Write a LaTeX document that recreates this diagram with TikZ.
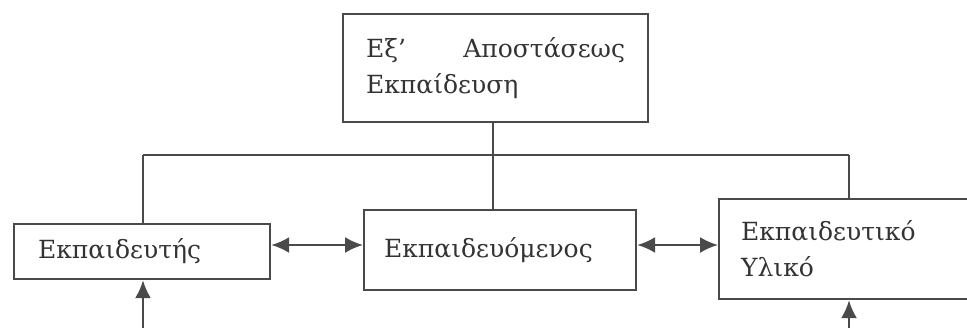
\documentclass[tikz,border=0pt]{standalone}
\usepackage{fontspec}
\setmainfont{DejaVu Serif}
\usetikzlibrary{arrows.meta}
\definecolor{ink}{HTML}{333333}
\definecolor{edge}{HTML}{4A4A4A}
\begin{document}
\begin{tikzpicture}[x=1pt,y=-1pt,
  box/.style={draw=edge, line width=2.2pt, rectangle, anchor=north west, inner ysep=0pt,
    text=ink, font=\fontsize{25}{36}\selectfont, align=left},
  link/.style={draw=edge, line width=2.2pt},
  dbl/.style={link, {Latex[length=18pt,width=16pt]}-{Latex[length=18pt,width=16pt]}},
  up/.style={link, -{Latex[length=18pt,width=16pt]}}]
\useasboundingbox (0,0) rectangle (967,327);
\node[box, minimum width=305pt, minimum height=108pt, inner xsep=23pt, text width=259pt] (top) at (342,13)
  {Εξ’\hfill Αποστάσεως\\Εκπαίδευση};
\node[box, minimum width=256pt, minimum height=55pt, inner xsep=24pt, text width=208pt] (left) at (13,223)
  {\raisebox{-4pt}{Εκπαιδευτής}};
\node[box, minimum width=272pt, minimum height=80pt, inner xsep=20pt, text width=232pt] (mid) at (363,209)
  {Εκπαιδευόμενος};
\node[box, minimum width=252pt, minimum height=100pt, inner xsep=22pt, text width=208pt] (right) at (718,198)
  {Εκπαιδευτικό\\Υλικό};
\coordinate (jl) at (143,155);
\coordinate (jm) at (493,155);
\coordinate (jr) at (849,155);
\coordinate (bl) at (143,330);
\coordinate (br) at (849,330);
\draw[link] (jl) -- (jr);
\draw[link] (top.south -| jm) -- (jm);
\draw[link] (jm) -- (mid.north -| jm);
\draw[link] (jl) -- (left.north -| jl);
\draw[link] (jr) -- (right.north -| jr);
\draw[dbl] (left.east |- 0,245) -- (mid.west |- 0,245);
\draw[dbl] (mid.east |- 0,245) -- (right.west |- 0,245);
\draw[up] (bl) -- (left.south -| bl);
\draw[up] (br) -- (right.south -| br);
\end{tikzpicture}
\end{document}
